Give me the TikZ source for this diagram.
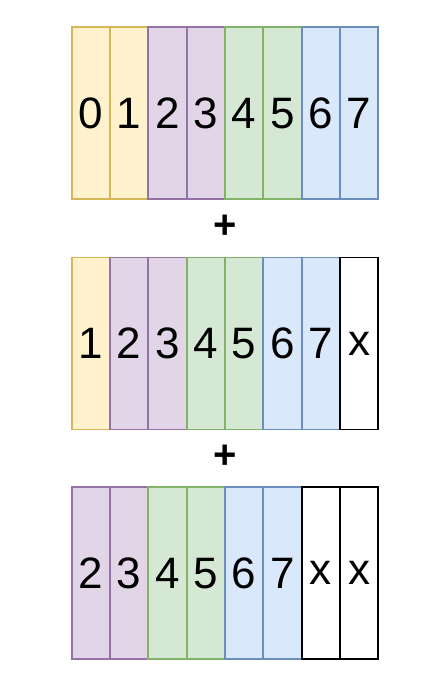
\documentclass[tikz,border=0pt]{standalone}
\usepackage{fontspec}
\setmainfont{Liberation Sans}
\definecolor{yf}{HTML}{FFF2CC}\definecolor{ys}{HTML}{D6B656}
\definecolor{pf}{HTML}{E1D5E7}\definecolor{ps}{HTML}{9673A6}
\definecolor{gf}{HTML}{D5E8D4}\definecolor{gs}{HTML}{82B366}
\definecolor{bf}{HTML}{DAE8FC}\definecolor{bs}{HTML}{6C8EBF}
\tikzset{
  cell/.style={draw, line width=1.8pt, minimum width=38.33pt, minimum height=172pt,
    inner sep=0pt, outer sep=0pt, anchor=north west, font=\fontsize{44}{44}\selectfont},
  Y/.style={cell, fill=yf, draw=ys},
  P/.style={cell, fill=pf, draw=ps},
  G/.style={cell, fill=gf, draw=gs},
  B/.style={cell, fill=bf, draw=bs},
  W/.style={cell, fill=white, draw=black},
  plus/.style={inner sep=0pt, font=\bfseries\fontsize{40}{40}\selectfont}
}
\begin{document}
\begin{tikzpicture}[x=1pt,y=1pt]
\useasboundingbox (0,0) rectangle (443,-697);
\foreach \st/\lab [count=\i from 0] in {Y/0,Y/1,P/2,P/3,G/4,G/5,B/6,B/7}
  \node[\st] (a\i) at ({71.7+\i*38.33},-27.3) {\lab};
\foreach \st/\lab [count=\i from 0] in {Y/1,P/2,P/3,G/4,G/5,B/6,B/7,W/x}
  \node[\st] (b\i) at ({71.7+\i*38.33},-257.5) {\lab};
\foreach \st/\lab [count=\i from 0] in {P/2,P/3,G/4,G/5,B/6,B/7,W/x,W/x}
  \node[\st] (c\i) at ({71.7+\i*38.33},-487.3) {\lab};
\node[plus] (p1) at (225,-226.7) {+};
\node[plus] (p2) at (225,-456.7) {+};
\end{tikzpicture}
\end{document}
